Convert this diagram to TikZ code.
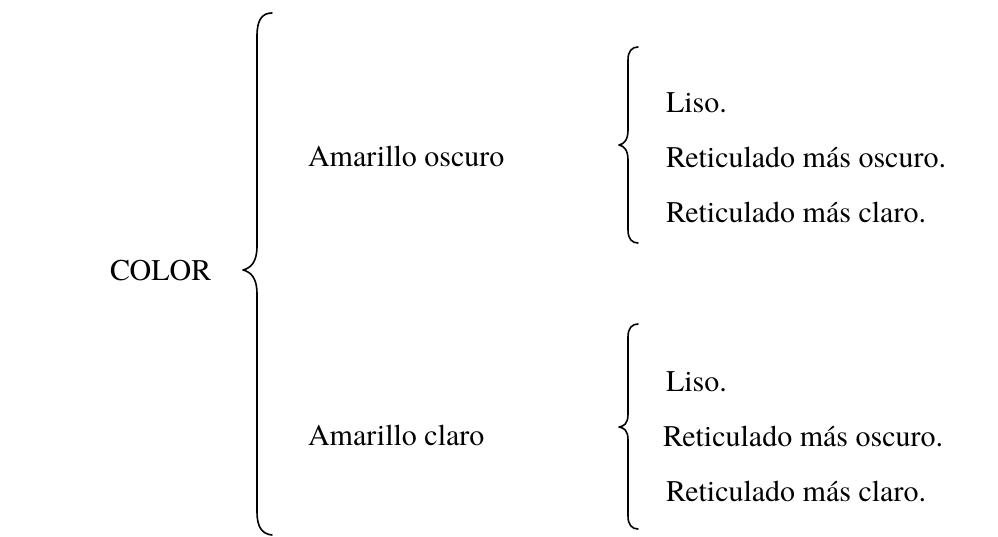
\documentclass[tikz,border=0pt]{standalone}
\usepackage{fontspec}
\setmainfont{TeX Gyre Termes}
\begin{document}
\begin{tikzpicture}[x=1pt,y=-1pt,
  lbl/.style={anchor=base west,inner sep=0pt,outer sep=0pt,font=\fontsize{30}{36}\selectfont},
  bracepath/.style={line width=1.6pt,line cap=round,line join=round}]
\useasboundingbox (0,0) rectangle (998,537);

% main category
\node[lbl] (color) at (110,280) {COLOR};

% large brace
\draw[bracepath] (272,13) .. controls (262,13) and (257,20) .. (257,36)
  -- (257,246) .. controls (257,262) and (251,268) .. (243,270)
  .. controls (251,272) and (257,278) .. (257,294)
  -- (257,512) .. controls (257,527) and (262,534) .. (272,535);

% first sub-category
\node[lbl] (oscuro) at (308,167) {Amarillo oscuro};
\draw[bracepath] (638,47) .. controls (632,47) and (628,51) .. (628,60)
  -- (628,130) .. controls (628,140) and (624,144) .. (619,145)
  .. controls (624,146) and (628,150) .. (628,160)
  -- (628,230) .. controls (628,239) and (632,243) .. (638,243);
\node[lbl] (o1) at (666,113) {Liso.};
\node[lbl] (o2) at (666,168) {Reticulado más oscuro.};
\node[lbl] (o3) at (666,223) {Reticulado más claro.};

% second sub-category
\node[lbl] (claro) at (308,445) {Amarillo claro};
\draw[bracepath] (638,324) .. controls (632,324) and (628,328) .. (628,337)
  -- (628,414) .. controls (628,424) and (624,426) .. (619,427)
  .. controls (624,428) and (628,430) .. (628,440)
  -- (628,516) .. controls (628,525) and (632,529) .. (638,529);
\node[lbl] (c1) at (666,391) {Liso.};
\node[lbl] (c2) at (663,446) {Reticulado más oscuro.};
\node[lbl] (c3) at (666,501) {Reticulado más claro.};
\end{tikzpicture}
\end{document}
